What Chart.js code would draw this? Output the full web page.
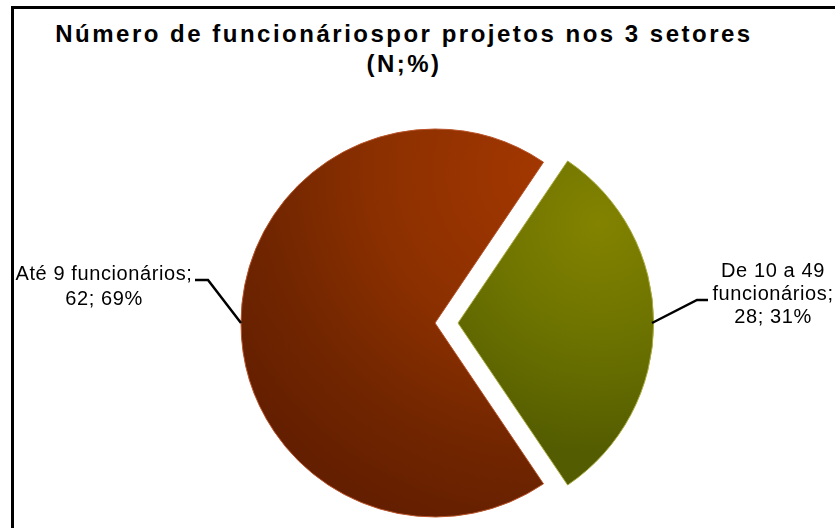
<!DOCTYPE html>
<html lang="pt">
<head>
<meta charset="utf-8">
<script src="https://cdn.jsdelivr.net/npm/chart.js@4"></script>
<style>
html,body{margin:0;padding:0;background:#fff}
#wrap{position:relative;width:835px;height:528px;overflow:hidden;background:#fff}
#frame{position:absolute;left:11px;top:6px;right:-10px;bottom:-10px;border-left:3px solid #000;border-top:3px solid #000}
#title{position:absolute;left:0;top:19px;width:808px;text-align:center;font:bold 24px/30px "Liberation Sans",Arial,sans-serif;letter-spacing:2.5px;color:#000}
#chart{position:absolute;left:0;top:0}
</style>
</head>
<body>

<div id="wrap">
<div id="frame"></div>
<div id="title">Número de funcionáriospor projetos nos 3 setores<br>(N;%)</div>
<canvas id="chart" width="835" height="528"></canvas>
</div>

<script>

// data
const categories=[["Até 9 funcionários;"],["De 10 a 49","funcionários;"]]
const counts=[62,28]
const percents=[69,31]

// layout of the two labels (text centre, first baseline, leader elbow)
const labelLayout=[
{x:104,y:280,lineH:25,elbow:[208,280],end:[195,280]},
{x:773,y:277,lineH:23,elbow:[697,300],end:[708,300]}
]

const total=counts.reduce((a,b)=>a+b,0)
const firstAngle=360*counts[0]/total
// first slice centred on the left side
const rotation=90+180-firstAngle/2

function sliceFill(c){
const chart=c.chart
const area=chart.chartArea
const plain=["#7e2b00","#6c7200"]
if(!area) return plain[c.dataIndex]
const cx=(area.left+area.right)/2
const cy=(area.top+area.bottom)/2
const g=chart.ctx
if(c.dataIndex===0){
const grad=g.createRadialGradient(cx+110,cy-150,0,cx+110,cy-150,370)
grad.addColorStop(0,"#a33700")
grad.addColorStop(0.45,"#8c3000")
grad.addColorStop(0.75,"#722600")
grad.addColorStop(1,"#641f00")
return grad
}
const grad=g.createRadialGradient(cx+140,cy-100,0,cx+140,cy-100,230)
grad.addColorStop(0,"#838300")
grad.addColorStop(0.5,"#6d7300")
grad.addColorStop(1,"#535c00")
return grad
}

const sliceLabels={
id:"sliceLabels",
afterDatasetsDraw(chart){
const ctx=chart.ctx
const meta=chart.getDatasetMeta(0)
ctx.save()
ctx.font='20px "Liberation Sans", Arial, sans-serif'
ctx.letterSpacing="0.6px"
ctx.fillStyle="#000"
ctx.strokeStyle="#000"
ctx.lineWidth=2.5
ctx.textAlign="center"
ctx.textBaseline="alphabetic"
meta.data.forEach((arc,i)=>{
const L=labelLayout[i]
const mid=(arc.startAngle+arc.endAngle)/2
const shift=(arc.options.offset||0)/4
const r=arc.outerRadius
const px=arc.x+Math.cos(mid)*(shift+r)
const py=arc.y+Math.sin(mid)*(shift+r)
ctx.beginPath()
ctx.moveTo(px,py)
ctx.lineTo(L.elbow[0],L.elbow[1])
ctx.lineTo(L.end[0],L.end[1])
ctx.stroke()
const lines=categories[i].concat([counts[i]+"; "+percents[i]+"%"])
lines.forEach((t,k)=>{
ctx.fillText(t,L.x,L.y+k*L.lineH)
})
})
ctx.restore()
}
}

new Chart(document.getElementById("chart"),{

type:"pie",

data:{
labels:categories,
datasets:[{
data:counts,
backgroundColor:sliceFill,
borderColor:["#b8532a","#a9a940"],
borderWidth:1,
offset:[0,92],
radius:194
}]
},

options:{
responsive:false,
animation:false,
events:[],
rotation:rotation,
layout:{padding:{left:35,right:0,top:118,bottom:0}},
plugins:{
legend:{display:false},
tooltip:{enabled:false},
title:{display:false}
}
},

plugins:[sliceLabels]

})

</script>
</body>
</html>
